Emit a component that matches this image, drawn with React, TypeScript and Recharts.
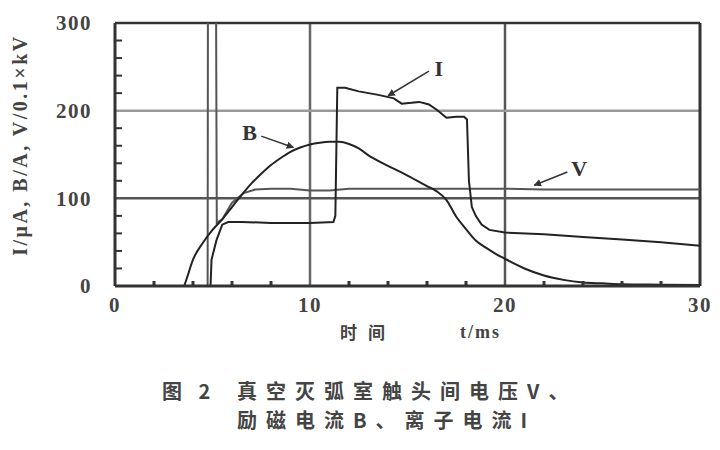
import {
    LineChart,
    Line,
    XAxis,
    YAxis,
    ReferenceLine,
    ReferenceDot,
} from "recharts";

// 时间 t/ms
const tB = [3.55, 3.7, 4.0, 4.5, 5.0, 5.5, 6.0, 6.5, 7.0, 7.5, 8.0, 8.5, 9.0, 9.5, 10, 10.5, 11, 11.5, 12, 12.5, 13, 14, 15, 16, 16.5, 17, 17.5, 18, 18.5, 19, 19.5, 20, 21, 22, 23, 24, 25, 26, 28, 30];
const bValues = [0, 10, 30, 49, 64, 76, 90, 104, 117, 128, 138, 146, 153, 158, 161.5, 163.5, 164.5, 164.5, 162, 157, 149, 137, 126, 114, 108, 98, 79, 65, 52, 44, 37, 31, 20, 12, 7, 4, 3, 2, 1.5, 1];

const tI = [4.9, 4.95, 5.2, 5.5, 5.8, 6.5, 8, 10, 11.2, 11.3, 11.4, 11.8, 12.5, 13.5, 14.3, 14.7, 15.2, 15.6, 16.1, 16.5, 17.0, 17.5, 17.9, 18.05, 18.15, 18.3, 18.5, 18.8, 19.2, 20, 22, 24, 26, 28, 30];
const iValues = [0, 30, 52, 70, 73, 73, 72, 72, 73, 80, 226, 226, 222, 218, 214, 208, 209, 210, 207, 201, 192, 193, 193, 190, 120, 90, 80, 70, 64, 61, 59, 56, 53, 50, 46];

const tV = [4.75, 4.77, 5.17, 5.22, 5.5, 6.0, 6.6, 7.2, 8, 9, 10, 11, 12, 14, 16, 18, 20, 22, 24, 26, 28, 30];
const vValues = [0, 400, 400, 72, 76, 95, 106, 110, 111, 111, 109, 109, 111, 111, 111, 111, 111, 110, 110, 110, 110, 110];

const xMajor = [0, 10, 20, 30];
const yMajor = [0, 100, 200, 300];
const xTicks = [0, 2, 4, 6, 8, 10, 12, 14, 16, 18, 20, 22, 24, 26, 28, 30];
const yTicks = [0, 20, 40, 60, 80, 100, 120, 140, 160, 180, 200, 220, 240, 260, 280, 300];

const toPoints = (ts: number[], vs: number[]) => ts.map((t, i) => ({ t, v: vs[i] }));

const bData = toPoints(tB, bValues);
const iData = toPoints(tI, iValues);
const vData = toPoints(tV, vValues);

const SERIF = '"Liberation Serif", "DejaVu Serif", serif';
const CJK = '"Noto Sans CJK SC", sans-serif';
const INK = "#333";

const labelFont = { fontSize: 21, fontFamily: SERIF, fontWeight: 700, fill: "#444", letterSpacing: 1.5 };

// tick label for major values, short inner mark for minor ones
const XTick = ({ x, y, payload }: any) => {
    if (xMajor.includes(payload.value)) {
        return (
            <text x={x} y={y} dy="0.71em" textAnchor="middle" {...labelFont}>
                {payload.value}
            </text>
        );
    }
    return <line x1={x} x2={x} y1={y - 11} y2={y - 16} stroke={INK} strokeWidth={3} />;
};

const YTick = ({ x, y, payload }: any) => {
    if (yMajor.includes(payload.value)) {
        return (
            <text x={x} y={y} dy="0.355em" textAnchor="end" {...labelFont}>
                {payload.value}
            </text>
        );
    }
    return <line x1={x + 23} x2={x + 30} y1={y} y2={y} stroke={INK} strokeWidth={2} />;
};

const tag = (text: string) => ({
    value: text,
    position: "center" as const,
    fontSize: 22,
    fontFamily: SERIF,
    fontWeight: 700,
    fill: INK,
});

const caption = {
    fontFamily: CJK,
    fontSize: 20,
    fontWeight: 600,
    color: "#444",
    whiteSpace: "nowrap" as const,
};

const App = () => {
    return (
        <div style={{ position: "relative", width: 704, height: 434, background: "#fff" }}>
            <LineChart
                width={704}
                height={310}
                margin={{ top: 15, right: 12, left: 0, bottom: 2 }}
            >
                <defs>
                    <marker id="tip" viewBox="0 0 10 10" refX="9" refY="5" markerWidth="5" markerHeight="5" orient="auto">
                        <path d="M0,0 L10,5 L0,10 z" fill={INK} />
                    </marker>
                </defs>
                <XAxis
                    dataKey="t"
                    type="number"
                    domain={[0, 30]}
                    ticks={xTicks}
                    interval={0}
                    allowDataOverflow
                    height={30}
                    tickLine={false}
                    tickMargin={5}
                    axisLine={{ stroke: INK, strokeWidth: 3 }}
                    tick={<XTick />}
                />
                <YAxis
                    type="number"
                    domain={[0, 300]}
                    ticks={yTicks}
                    interval={0}
                    allowDataOverflow
                    width={107}
                    tickLine={false}
                    tickMargin={17}
                    axisLine={{ stroke: INK, strokeWidth: 3 }}
                    tick={<YTick />}
                />
                <ReferenceLine x={10} stroke="#666" strokeWidth={2.5} />
                <ReferenceLine x={20} stroke="#555" strokeWidth={2.5} />
                <ReferenceLine y={100} stroke="#555" strokeWidth={2.5} />
                <ReferenceLine y={200} stroke="#999" strokeWidth={2.5} />
                <ReferenceLine y={300} stroke={INK} strokeWidth={2.5} />
                <ReferenceLine x={30} stroke={INK} strokeWidth={3} />

                <Line
                    data={vData}
                    dataKey="v"
                    type="linear"
                    stroke="#555"
                    strokeWidth={2}
                    dot={false}
                    isAnimationActive={false}
                />
                <Line
                    data={bData}
                    dataKey="v"
                    type="monotone"
                    stroke="#222"
                    strokeWidth={2}
                    dot={false}
                    isAnimationActive={false}
                />
                <Line
                    data={iData}
                    dataKey="v"
                    type="linear"
                    stroke="#222"
                    strokeWidth={2}
                    dot={false}
                    isAnimationActive={false}
                />

                <ReferenceLine
                    segment={[{ x: 7.5, y: 171 }, { x: 9.15, y: 158 }]}
                    stroke={INK}
                    strokeWidth={1.5}
                    markerEnd="url(#tip)"
                />
                <ReferenceLine
                    segment={[{ x: 16.1, y: 245 }, { x: 14.0, y: 217 }]}
                    stroke={INK}
                    strokeWidth={1.5}
                    markerEnd="url(#tip)"
                />
                <ReferenceLine
                    segment={[{ x: 23.2, y: 130 }, { x: 21.5, y: 115 }]}
                    stroke={INK}
                    strokeWidth={1.5}
                    markerEnd="url(#tip)"
                />
                <ReferenceDot x={6.9} y={176} r={0} stroke="none" label={tag("B")} />
                <ReferenceDot x={16.6} y={248} r={0} stroke="none" label={tag("I")} />
                <ReferenceDot x={23.8} y={134} r={0} stroke="none" label={tag("V")} />

                <text
                    x={12}
                    y={137}
                    transform="rotate(-90 12 137)"
                    textAnchor="middle"
                    dominantBaseline="central"
                    fontFamily={SERIF}
                    fontWeight={700}
                    fontSize={20}
                    letterSpacing={2.5}
                    fill="#444"
                >
                    I/μA, B/A, V/0.1×kV
                </text>
            </LineChart>

            <div style={{ position: "absolute", left: 332, top: 311, fontFamily: CJK, fontSize: 17, fontWeight: 600, color: "#444", letterSpacing: 11 }}>
                时间
            </div>
            <div style={{ position: "absolute", left: 452, top: 314, fontFamily: SERIF, fontSize: 18, fontWeight: 700, color: "#444", letterSpacing: 2 }}>
                t/ms
            </div>

            <div style={{ ...caption, position: "absolute", left: 154, top: 368, letterSpacing: 6, lineHeight: "29px" }}>
                图 2
            </div>
            <div style={{ ...caption, position: "absolute", left: 229, top: 368, letterSpacing: 9, lineHeight: "29px" }}>
                <div>真空灭弧室触头间电压V、</div>
                <div>励磁电流B、离子电流I</div>
            </div>
        </div>
    );
};

export default App;
